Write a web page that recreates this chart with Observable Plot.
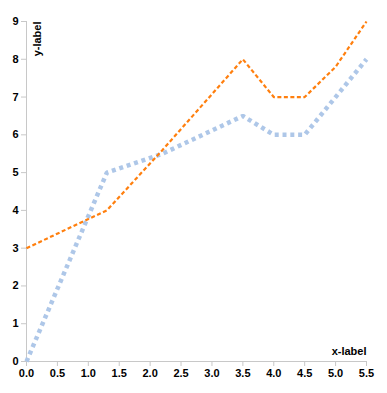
<!DOCTYPE html>
<html>
<head>
<meta charset="utf-8">
<script src="https://cdn.jsdelivr.net/npm/d3@7"></script>
<script src="https://cdn.jsdelivr.net/npm/@observablehq/plot@0.6"></script>
<style>
  body { margin: 0; background: #fff; }
  #chart svg g[aria-label="x-axis tick"] path,
  #chart svg g[aria-label="y-axis tick"] path { stroke: #c8c8c8; stroke-opacity: 1; }
</style>
</head>
<body>
<div id="chart"></div>
<script>
const xTicks = [0, 0.5, 1, 1.5, 2, 2.5, 3, 3.5, 4, 4.5, 5, 5.5];
const yTicks = [0, 1, 2, 3, 4, 5, 6, 7, 8, 9];

const blueX = [0, 1.3, 2.2, 3.5, 4, 4.5, 5, 5.5];
const blueY = [0, 5, 5.5, 6.5, 6, 6, 7, 8];

const orangeX = [0, 1.3, 2.2, 3.5, 4, 4.5, 5, 5.5];
const orangeY = [3, 4, 5.6, 8, 7, 7, 7.8, 9];

const blue = blueX.map((x, i) => ({x, y: blueY[i]}));
const orange = orangeX.map((x, i) => ({x, y: orangeY[i]}));

const chart = Plot.plot({
  width: 387,
  height: 393,
  marginLeft: 26,
  marginRight: 21,
  marginTop: 21,
  marginBottom: 32,
  style: {fontFamily: "'Liberation Sans', Arial, sans-serif", fontSize: "11px", fontWeight: "bold", color: "black", background: "white"},
  x: {domain: [0, 5.5]},
  y: {domain: [0, 9]},
  marks: [
    Plot.ruleY([0], {stroke: "#c8c8c8"}),
    Plot.ruleX([0], {stroke: "#c8c8c8"}),
    Plot.axisX({ticks: xTicks, tickFormat: d3.format(".1f"), tickSize: 5, tickPadding: 3, label: null}),
    Plot.axisY({ticks: yTicks, tickFormat: d3.format("d"), tickSize: 5, tickPadding: 3, label: null}),
    Plot.line(blue, {x: "x", y: "y", stroke: "#aec7e8", strokeWidth: 4.5, strokeDasharray: "4,3.8", strokeLinecap: "butt", strokeLinejoin: "miter"}),
    Plot.line(orange, {x: "x", y: "y", stroke: "#ff7f0e", strokeWidth: 2.2, strokeDasharray: "4,2.5", strokeLinecap: "butt", strokeLinejoin: "miter"}),
    Plot.text(["x-label"], {frameAnchor: "bottom-right", textAnchor: "end", dy: -7, fill: "black"}),
    Plot.text(["y-label"], {frameAnchor: "top-left", textAnchor: "end", rotate: -90, dx: 7, dy: 0, fill: "black"})
  ]
});
document.getElementById("chart").appendChild(chart);
</script>
</body>
</html>
